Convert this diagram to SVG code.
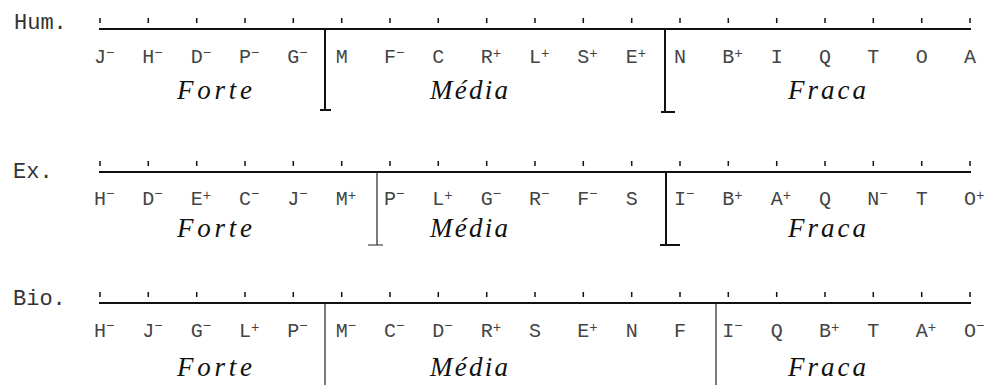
<svg xmlns="http://www.w3.org/2000/svg" width="995" height="385" viewBox="0 0 995 385">
<style>
.bg{fill:#fff}
.lbl{font-family:"Liberation Mono","DejaVu Sans Mono",monospace;font-size:22px;fill:#333}
.lt{font-family:"Liberation Mono","DejaVu Sans Mono",monospace;font-size:20px;fill:#444}
.s{font-size:14px}
.cat{font-family:"Liberation Serif","DejaVu Serif",serif;font-style:italic;font-size:27px;fill:#111}
.axis{stroke:#111;stroke-width:2;fill:none}
.tick{stroke:#111;stroke-width:1.5;fill:none}
.div{stroke:#111;stroke-width:2;fill:none}
.divt{stroke:#222;stroke-width:1.2;fill:none}
</style>
<rect class="bg" x="0" y="0" width="995" height="385"/>

<g id="row-hum">
<text class="lbl" x="14" y="29">Hum.</text>
<path class="axis" d="M99 29H971"/>
<path class="tick" d="M100 18v5M148.3 18v5M196.7 18v5M245 18v5M293.3 18v5M341.7 18v5M390 18v5M438.3 18v5M486.7 18v5M535 18v5M583.3 18v5M631.7 18v5M680 18v5M728.3 18v5M776.7 18v5M825 18v5M873.3 18v5M921.7 18v5M970 18v5"/>
<text class="lt" x="94" y="63">J<tspan class="s" dy="-6">−</tspan></text>
<text class="lt" x="142.3" y="63">H<tspan class="s" dy="-6">−</tspan></text>
<text class="lt" x="190.7" y="63">D<tspan class="s" dy="-6">−</tspan></text>
<text class="lt" x="239" y="63">P<tspan class="s" dy="-6">−</tspan></text>
<text class="lt" x="287.3" y="63">G<tspan class="s" dy="-6">−</tspan></text>
<text class="lt" x="335.7" y="63">M</text>
<text class="lt" x="384" y="63">F<tspan class="s" dy="-6">−</tspan></text>
<text class="lt" x="432.3" y="63">C</text>
<text class="lt" x="480.7" y="63">R<tspan class="s" dy="-5">+</tspan></text>
<text class="lt" x="529" y="63">L<tspan class="s" dy="-5">+</tspan></text>
<text class="lt" x="577.3" y="63">S<tspan class="s" dy="-5">+</tspan></text>
<text class="lt" x="625.7" y="63">E<tspan class="s" dy="-5">+</tspan></text>
<text class="lt" x="674" y="63">N</text>
<text class="lt" x="722.3" y="63">B<tspan class="s" dy="-5">+</tspan></text>
<text class="lt" x="770.7" y="63">I</text>
<text class="lt" x="819" y="63">Q</text>
<text class="lt" x="867.3" y="63">T</text>
<text class="lt" x="915.7" y="63">O</text>
<text class="lt" x="964" y="63">A</text>
<text class="cat" x="177" y="99" textLength="75" lengthAdjust="spacing">Forte</text>
<text class="cat" x="430" y="99" textLength="78" lengthAdjust="spacing">Média</text>
<text class="cat" x="788" y="99" textLength="78" lengthAdjust="spacing">Fraca</text>
</g>

<g id="row-ex">
<text class="lbl" x="13" y="178">Ex.</text>
<path class="axis" d="M99 172H971"/>
<path class="tick" d="M100 161v5M148.3 161v5M196.7 161v5M245 161v5M293.3 161v5M341.7 161v5M390 161v5M438.3 161v5M486.7 161v5M535 161v5M583.3 161v5M631.7 161v5M680 161v5M728.3 161v5M776.7 161v5M825 161v5M873.3 161v5M921.7 161v5M970 161v5"/>
<text class="lt" x="94" y="205">H<tspan class="s" dy="-7">−</tspan></text>
<text class="lt" x="142.3" y="205">D<tspan class="s" dy="-7">−</tspan></text>
<text class="lt" x="190.7" y="205">E<tspan class="s" dy="-5">+</tspan></text>
<text class="lt" x="239" y="205">C<tspan class="s" dy="-7">−</tspan></text>
<text class="lt" x="287.3" y="205">J<tspan class="s" dy="-7">−</tspan></text>
<text class="lt" x="335.7" y="205">M<tspan class="s" dy="-5">+</tspan></text>
<text class="lt" x="384" y="205">P<tspan class="s" dy="-7">−</tspan></text>
<text class="lt" x="432.3" y="205">L<tspan class="s" dy="-5">+</tspan></text>
<text class="lt" x="480.7" y="205">G<tspan class="s" dy="-7">−</tspan></text>
<text class="lt" x="529" y="205">R<tspan class="s" dy="-7">−</tspan></text>
<text class="lt" x="577.3" y="205">F<tspan class="s" dy="-7">−</tspan></text>
<text class="lt" x="625.7" y="205">S</text>
<text class="lt" x="674" y="205">I<tspan class="s" dy="-7">−</tspan></text>
<text class="lt" x="722.3" y="205">B<tspan class="s" dy="-5">+</tspan></text>
<text class="lt" x="770.7" y="205">A<tspan class="s" dy="-5">+</tspan></text>
<text class="lt" x="819" y="205">Q</text>
<text class="lt" x="867.3" y="205">N<tspan class="s" dy="-7">−</tspan></text>
<text class="lt" x="915.7" y="205">T</text>
<text class="lt" x="964" y="205">O<tspan class="s" dy="-5">+</tspan></text>
<text class="cat" x="177" y="237" textLength="75" lengthAdjust="spacing">Forte</text>
<text class="cat" x="430" y="237" textLength="78" lengthAdjust="spacing">Média</text>
<text class="cat" x="788" y="237" textLength="78" lengthAdjust="spacing">Fraca</text>
</g>

<g id="row-bio">
<text class="lbl" x="13" y="305">Bio.</text>
<path class="axis" d="M99 303H971"/>
<path class="tick" d="M100 292v5M148.3 292v5M196.7 292v5M245 292v5M293.3 292v5M341.7 292v5M390 292v5M438.3 292v5M486.7 292v5M535 292v5M583.3 292v5M631.7 292v5M680 292v5M728.3 292v5M776.7 292v5M825 292v5M873.3 292v5M921.7 292v5M970 292v5"/>
<text class="lt" x="94" y="337">H<tspan class="s" dy="-7">−</tspan></text>
<text class="lt" x="142.3" y="337">J<tspan class="s" dy="-7">−</tspan></text>
<text class="lt" x="190.7" y="337">G<tspan class="s" dy="-7">−</tspan></text>
<text class="lt" x="239" y="337">L<tspan class="s" dy="-5">+</tspan></text>
<text class="lt" x="287.3" y="337">P<tspan class="s" dy="-7">−</tspan></text>
<text class="lt" x="335.7" y="337">M<tspan class="s" dy="-7">−</tspan></text>
<text class="lt" x="384" y="337">C<tspan class="s" dy="-7">−</tspan></text>
<text class="lt" x="432.3" y="337">D<tspan class="s" dy="-7">−</tspan></text>
<text class="lt" x="480.7" y="337">R<tspan class="s" dy="-5">+</tspan></text>
<text class="lt" x="529" y="337">S</text>
<text class="lt" x="577.3" y="337">E<tspan class="s" dy="-5">+</tspan></text>
<text class="lt" x="625.7" y="337">N</text>
<text class="lt" x="674" y="337">F</text>
<text class="lt" x="722.3" y="337">I<tspan class="s" dy="-7">−</tspan></text>
<text class="lt" x="770.7" y="337">Q</text>
<text class="lt" x="819" y="337">B<tspan class="s" dy="-5">+</tspan></text>
<text class="lt" x="867.3" y="337">T</text>
<text class="lt" x="915.7" y="337">A<tspan class="s" dy="-5">+</tspan></text>
<text class="lt" x="964" y="337">O<tspan class="s" dy="-7">−</tspan></text>
<text class="cat" x="177" y="376" textLength="75" lengthAdjust="spacing">Forte</text>
<text class="cat" x="430" y="376" textLength="78" lengthAdjust="spacing">Média</text>
<text class="cat" x="788" y="376" textLength="78" lengthAdjust="spacing">Fraca</text>
</g>

<g id="connectors">
<path class="div" d="M325 29V110M320 110H331"/>
<path class="div" d="M665 29V112M661 112H675"/>
<path class="divt" d="M377 172V245M368 245H383"/>
<path class="div" d="M666 172V245M660 245H680"/>
<path class="divt" d="M325 303V385"/>
<path class="divt" d="M716 303V385"/>
</g>
</svg>
